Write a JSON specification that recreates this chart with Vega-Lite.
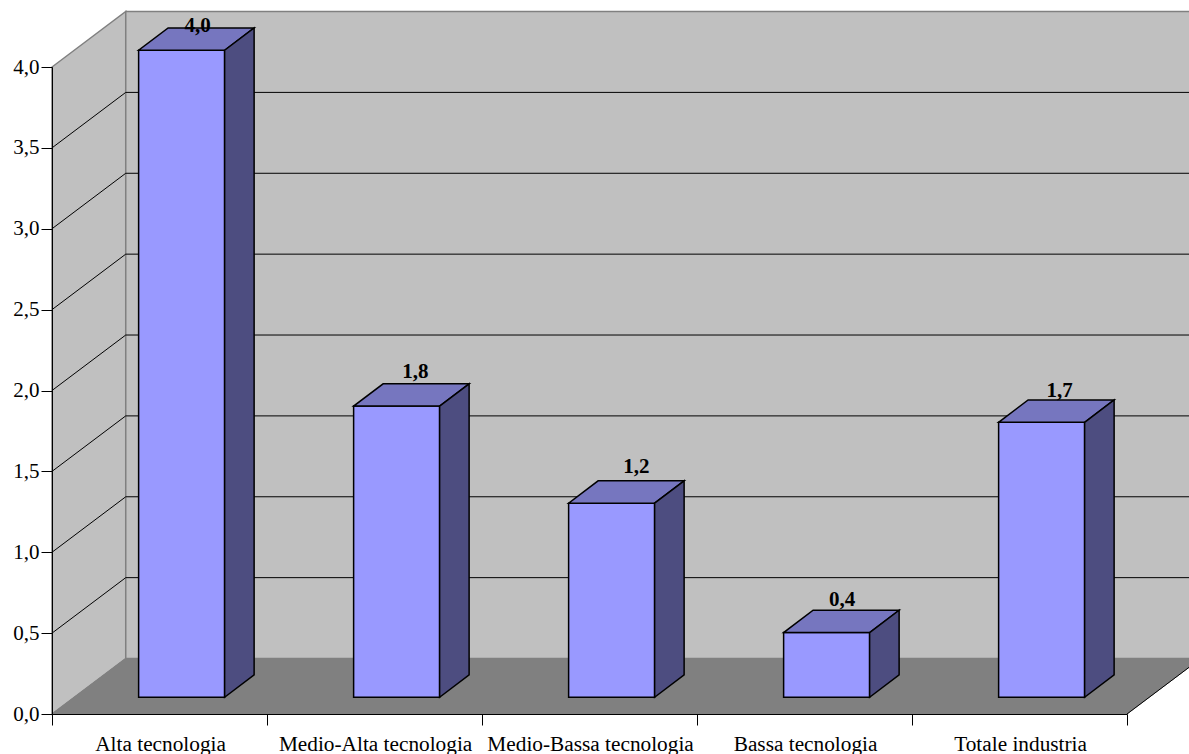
{
  "$schema": "https://vega.github.io/schema/vega-lite/v6.json",
  "autosize": {"type": "none"},
  "padding": {"left": 52, "top": 67, "right": 62, "bottom": 40},
  "width": 1075,
  "height": 647,
  "background": "white",
  "view": {"stroke": null},
  "config": {"text": {"font": "Liberation Serif"}},
  "datasets": {
    "settori": [
      {"settore": "Alta tecnologia", "valore": 4.0},
      {"settore": "Medio-Alta tecnologia", "valore": 1.8},
      {"settore": "Medio-Bassa tecnologia", "valore": 1.2},
      {"settore": "Bassa tecnologia", "valore": 0.4},
      {"settore": "Totale industria", "valore": 1.7}
    ],
    "griglia": [
      {"livello": 0.5}, {"livello": 1.0}, {"livello": 1.5}, {"livello": 2.0},
      {"livello": 2.5}, {"livello": 3.0}, {"livello": 3.5}
    ],
    "pareti": [
      {"faccia": "sinistra", "vertice": 0, "c": 0, "d": 0, "v": 0},
      {"faccia": "sinistra", "vertice": 1, "c": 0, "d": 1, "v": 0},
      {"faccia": "sinistra", "vertice": 2, "c": 0, "d": 1, "v": 4},
      {"faccia": "sinistra", "vertice": 3, "c": 0, "d": 0, "v": 4},
      {"faccia": "fondo", "vertice": 0, "c": 0, "d": 1, "v": 0},
      {"faccia": "fondo", "vertice": 1, "c": 5, "d": 1, "v": 0},
      {"faccia": "fondo", "vertice": 2, "c": 5, "d": 1, "v": 4},
      {"faccia": "fondo", "vertice": 3, "c": 0, "d": 1, "v": 4}
    ],
    "pavimento": [
      {"vertice": 0, "c": 0, "d": 0, "v": 0},
      {"vertice": 1, "c": 5, "d": 0, "v": 0},
      {"vertice": 2, "c": 5, "d": 1, "v": 0},
      {"vertice": 3, "c": 0, "d": 1, "v": 0}
    ],
    "spigolo": [
      {"vertice": 0, "c": 5, "d": 0, "v": 0},
      {"vertice": 1, "c": 5, "d": 1, "v": 0}
    ]
  },
  "encoding": {
    "x": {
      "field": "px", "type": "quantitative",
      "scale": {"domain": [0, 5], "nice": false, "zero": false},
      "axis": {
        "values": [0, 1, 2, 3, 4, 5], "title": null, "labels": false, "grid": false,
        "tickSize": 11, "tickColor": "black", "domainColor": "black", "zindex": 1
      }
    },
    "y": {
      "field": "py", "type": "quantitative",
      "scale": {"domain": [0, 4], "nice": false, "zero": false},
      "axis": {
        "values": [0, 0.5, 1, 1.5, 2, 2.5, 3, 3.5, 4], "title": null, "grid": false,
        "tickSize": 11, "tickColor": "black", "domainColor": "black", "zindex": 1,
        "labelExpr": "replace(format(datum.value, '.1f'), '.', ',')",
        "labelFont": "Liberation Serif", "labelFontSize": 21, "labelColor": "black",
        "labelPadding": 2, "labelBound": false, "labelFlush": false, "labelOverlap": false
      }
    }
  },
  "layer": [
    {
      "data": {"name": "pareti"},
      "transform": [
        {"calculate": "datum.c + 0.343 * datum.d", "as": "px"},
        {"calculate": "datum.v + 0.343 * datum.d", "as": "py"}
      ],
      "mark": {"type": "line", "interpolate": "linear-closed", "fill": "#C0C0C0", "stroke": "#808080", "strokeWidth": 1.5},
      "encoding": {"detail": {"field": "faccia"}, "order": {"field": "vertice"}}
    },
    {
      "data": {"name": "griglia"},
      "transform": [
        {"calculate": "[0, 1, 2]", "as": "passo"},
        {"flatten": ["passo"]},
        {"calculate": "(datum.passo === 2 ? 5 : 0) + 0.343 * (datum.passo === 0 ? 0 : 1)", "as": "px"},
        {"calculate": "datum.livello + 0.343 * (datum.passo === 0 ? 0 : 1)", "as": "py"}
      ],
      "mark": {"type": "line", "stroke": "black", "strokeWidth": 1},
      "encoding": {"detail": {"field": "livello"}, "order": {"field": "passo"}}
    },
    {
      "data": {"name": "pavimento"},
      "transform": [
        {"calculate": "datum.c + 0.343 * datum.d", "as": "px"},
        {"calculate": "datum.v + 0.343 * datum.d", "as": "py"}
      ],
      "mark": {"type": "line", "interpolate": "linear-closed", "fill": "#808080", "stroke": "#808080", "strokeWidth": 1},
      "encoding": {"order": {"field": "vertice"}}
    },
    {
      "data": {"name": "spigolo"},
      "transform": [
        {"calculate": "datum.c + 0.343 * datum.d", "as": "px"},
        {"calculate": "datum.v + 0.343 * datum.d", "as": "py"}
      ],
      "mark": {"type": "line", "stroke": "black", "strokeWidth": 1},
      "encoding": {"order": {"field": "vertice"}}
    },
    {
      "data": {"name": "settori"},
      "transform": [
        {"window": [{"op": "row_number", "as": "numero"}]},
        {"calculate": "['fronte', 'sommita', 'fianco']", "as": "faccia"},
        {"flatten": ["faccia"]},
        {"calculate": "[0, 1, 2, 3]", "as": "vertice"},
        {"flatten": ["vertice"]},
        {"calculate": "datum.settore + '|' + datum.faccia", "as": "poligono"},
        {"calculate": "datum.vertice === 1 || datum.vertice === 2", "as": "a"},
        {"calculate": "datum.vertice >= 2", "as": "b"},
        {"calculate": "datum.faccia === 'fianco' ? 0.7 : (datum.a ? 0.7 : 0.3)", "as": "cr"},
        {"calculate": "datum.faccia === 'fronte' ? 0.3 : datum.faccia === 'sommita' ? (datum.b ? 0.7 : 0.3) : (datum.a ? 0.7 : 0.3)", "as": "d"},
        {"calculate": "datum.faccia === 'sommita' ? datum.valore : (datum.b ? datum.valore : 0)", "as": "v"},
        {"calculate": "datum.numero - 1 + datum.cr + 0.343 * datum.d", "as": "px"},
        {"calculate": "datum.v + 0.345 * datum.d", "as": "py"}
      ],
      "mark": {"type": "line", "interpolate": "linear-closed", "stroke": "black", "strokeWidth": 1.5, "strokeJoin": "miter"},
      "encoding": {
        "detail": {"field": "poligono"},
        "order": {"field": "vertice"},
        "fill": {
          "field": "faccia", "type": "nominal", "legend": null,
          "scale": {"domain": ["fronte", "sommita", "fianco"], "range": ["#9999FF", "#7676BF", "#4D4D80"]}
        }
      }
    },
    {
      "data": {"name": "settori"},
      "transform": [
        {"window": [{"op": "row_number", "as": "numero"}]},
        {"calculate": "datum.numero - 0.5 + 0.1715 + [0.006, 0.019, 0.046, 0.003, 0.015][datum.numero - 1]", "as": "px"},
        {"calculate": "min(datum.valore + 0.2415 + [0, 0, 0.012, -0.012, -0.0185][datum.numero - 1], 4.18)", "as": "py"},
        {"calculate": "replace(format(datum.valore, '.1f'), '.', ',')", "as": "etichetta"}
      ],
      "mark": {"type": "text", "font": "Liberation Serif", "fontSize": 21, "fontWeight": "bold", "color": "black", "baseline": "alphabetic", "dy": -6},
      "encoding": {"text": {"field": "etichetta"}}
    },
    {
      "data": {"name": "settori"},
      "transform": [
        {"window": [{"op": "row_number", "as": "numero"}]},
        {"calculate": "datum.numero - 0.495", "as": "px"},
        {"calculate": "0", "as": "py"}
      ],
      "mark": {"type": "text", "font": "Liberation Serif", "fontSize": 21.3, "color": "black", "baseline": "alphabetic", "dy": 36.5},
      "encoding": {"text": {"field": "settore"}}
    }
  ]
}
